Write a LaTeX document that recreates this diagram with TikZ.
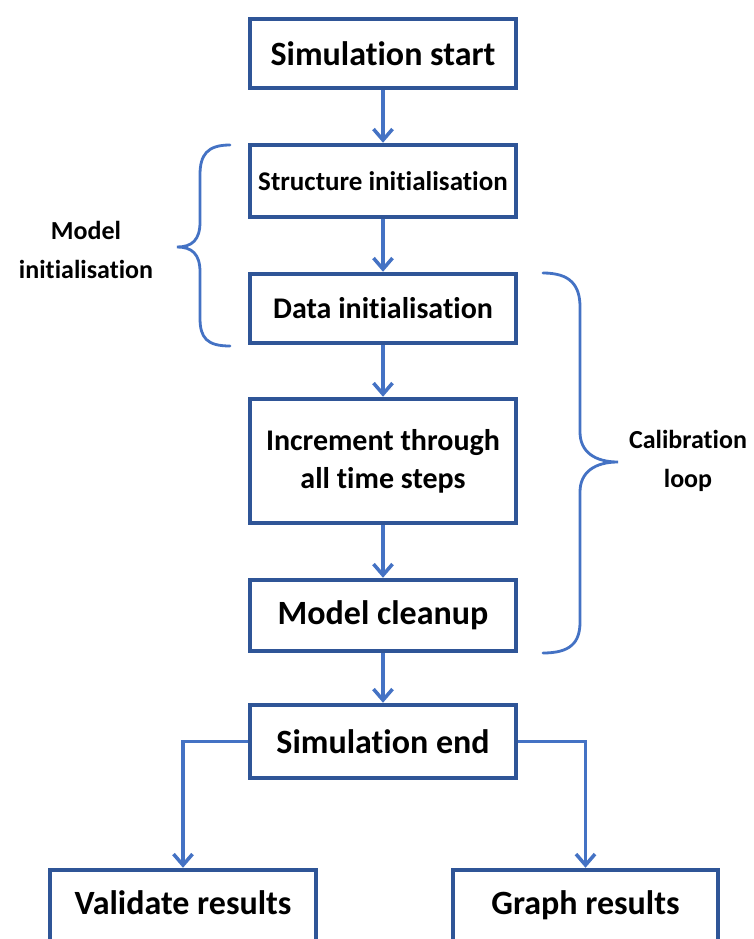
\documentclass[tikz,border=0pt]{standalone}
\usepackage{fontspec}
\setmainfont{Carlito}[Ligatures=NoCommon]
\usetikzlibrary{arrows.meta}
\definecolor{boxblue}{HTML}{2F5597}
\definecolor{linkblue}{HTML}{4472C4}
\tikzset{
  box/.style={draw=boxblue, line width=4.5pt, rectangle, minimum width=266pt, inner sep=0pt, align=center, font=\bfseries},
  link/.style={draw=linkblue, line width=3.5pt, -{Straight Barb[length=11pt,width=19pt]}},
  brace/.style={draw=linkblue, line width=2.8pt, line cap=round},
  lbl/.style={align=center, font=\bfseries\fontsize{26}{39}\selectfont}
}
\begin{document}
\begin{tikzpicture}[x=1pt,y=-1pt]
\useasboundingbox (0,0) rectangle (754,939);
\clip (0,0) rectangle (754,939);
\fill[white] (0,0) rectangle (754,939);

\node[box, minimum height=69pt, font=\bfseries\fontsize{34}{40}\selectfont] (start) at (383,53.5) {Simulation start};
\node[box, minimum height=72pt, font=\bfseries\fontsize{27}{32}\selectfont] (struct) at (383,181) {Structure initialisation};
\node[box, minimum height=69pt, font=\bfseries\fontsize{30}{36}\selectfont] (data) at (383,308.5) {Data initialisation};
\node[box, minimum height=124pt, font=\bfseries\fontsize{30}{38}\selectfont] (incr) at (383,461) {Increment through\\all time steps};
\node[box, minimum height=71pt, font=\bfseries\fontsize{34}{40}\selectfont] (clean) at (383,615.5) {Model cleanup};
\node[box, minimum height=73pt, font=\bfseries\fontsize{34}{40}\selectfont] (end) at (383,741.5) {Simulation end};
\node[box, minimum height=73pt, text height=24pt, text depth=8pt, font=\bfseries\fontsize{34}{40}\selectfont] (val) at (183,906.5) {Validate results};
\node[box, minimum width=265pt, minimum height=73pt, text height=24pt, text depth=8pt, font=\bfseries\fontsize{34}{40}\selectfont] (graph) at (585.5,906.5) {Graph results};

\draw[link] (start) -- (struct);
\draw[link] (struct) -- (data);
\draw[link] (data) -- (incr);
\draw[link] (incr) -- (clean);
\draw[link] (clean) -- (end);
\draw[link] (end.west) -| (val.north);
\draw[link] (end.east) -| (graph.north);

\draw[brace] (230,145) .. controls (207,145) and (200,155) .. (200,175) -- (200,222)
  .. controls (200,240) and (192,247) .. (177,247)
  .. controls (192,247) and (200,254) .. (200,272) -- (200,318)
  .. controls (200,338) and (207,346) .. (230,346);
\draw[brace] (543,273) .. controls (570,273) and (580,285) .. (580,307) -- (580,432)
  .. controls (580,452) and (595,462) .. (618,462)
  .. controls (595,462) and (580,472) .. (580,492) -- (580,622)
  .. controls (580,643) and (570,653) .. (543,653);

\node[lbl] (mi) at (86,250) {Model\\initialisation};
\node[lbl] (cl) at (688,461) {Calibration\\loop};
\end{tikzpicture}
\end{document}
